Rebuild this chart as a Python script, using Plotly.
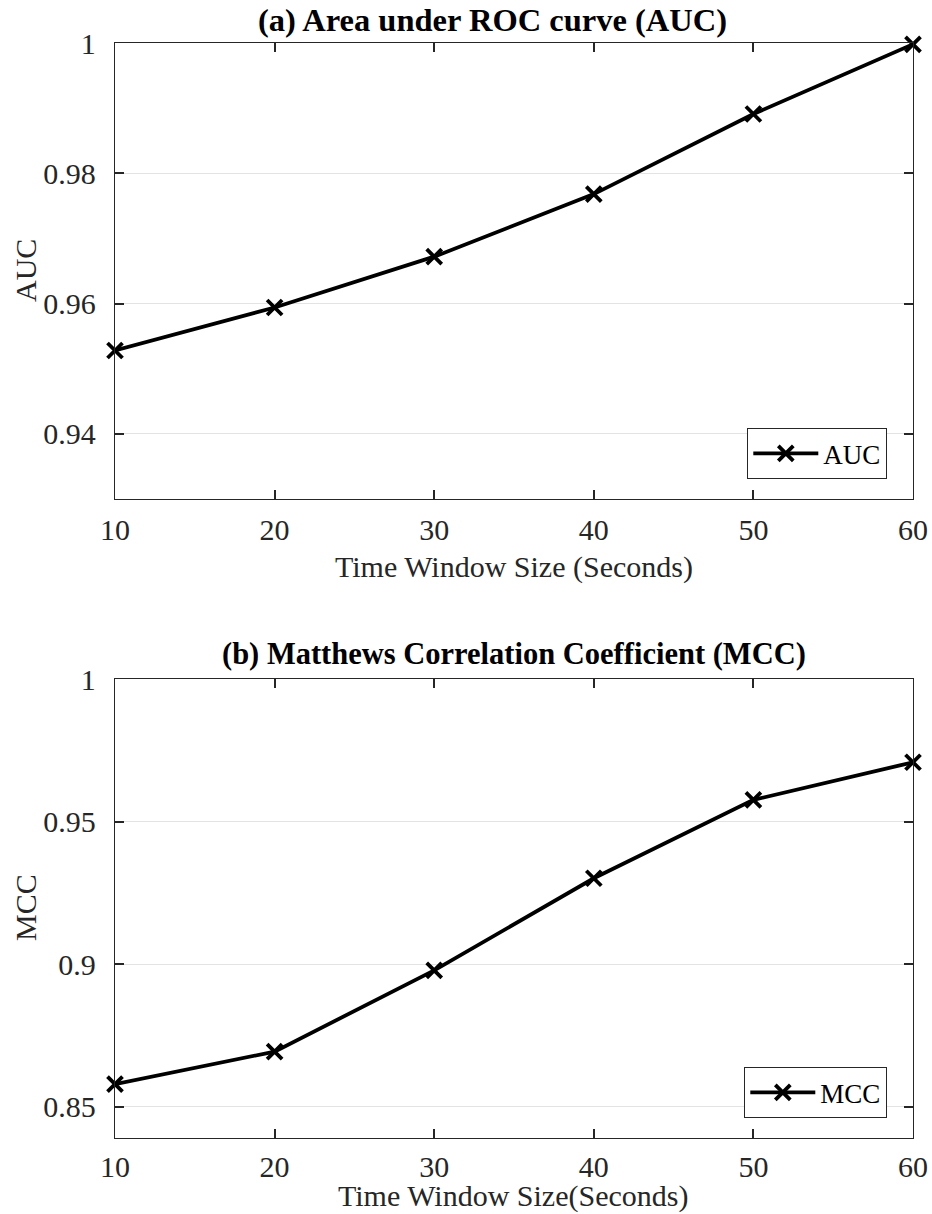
import plotly.graph_objects as go

window_sizes = [10, 20, 30, 40, 50, 60]
auc_values = [0.9528, 0.9594, 0.9672, 0.9768, 0.9891, 0.9998]
mcc_values = [0.8579, 0.8693, 0.8978, 0.9301, 0.9576, 0.9708]
auc_ticks = [0.94, 0.96, 0.98, 1.0]
auc_ticktext = ["0.94", "0.96", "0.98", "1"]
mcc_ticks = [0.85, 0.90, 0.95, 1.0]
mcc_ticktext = ["0.85", "0.9", "0.95", "1"]
x_ticks = [10, 20, 30, 40, 50, 60]
x_ticktext = ["10", "20", "30", "40", "50", "60"]

FONT = "Liberation Serif"
AXC = "#262626"
W, H = 932, 1214

fig = go.Figure()
fig.add_trace(go.Scatter(
    x=window_sizes, y=auc_values, mode="lines+markers", name="AUC",
    line=dict(color="black", width=3.8),
    marker=dict(symbol="x-thin", size=15, line=dict(color="black", width=3.8)),
    xaxis="x", yaxis="y", legend="legend", cliponaxis=False,
))
fig.add_trace(go.Scatter(
    x=window_sizes, y=mcc_values, mode="lines+markers", name="MCC",
    line=dict(color="black", width=3.8),
    marker=dict(symbol="x-thin", size=15, line=dict(color="black", width=3.8)),
    xaxis="x2", yaxis="y2", legend="legend2", cliponaxis=False,
))

def py(p):
    return 1 - p / H

def px(p):
    return (p - 115) / (913 - 115)

axis_common = dict(
    showline=True, linecolor=AXC, linewidth=1.3, mirror="ticks",
    ticks="inside", ticklen=9, tickwidth=1.5, tickcolor=AXC,
    tickfont=dict(family=FONT, size=30, color=AXC), zeroline=False,
    automargin=False, ticklabeloverflow="allow",
)
title_font = dict(family=FONT, size=30, color=AXC)

fig.update_layout(
    template="none",
    font=dict(family=FONT, size=30, color=AXC),
    width=W, height=H, paper_bgcolor="white", plot_bgcolor="white",
    margin=dict(l=115, r=W - 913, t=0, b=0, pad=0),
    showlegend=True,
    xaxis=dict(domain=[0, 1], range=[10, 60], tickvals=x_ticks, ticktext=x_ticktext,
               showgrid=False, anchor="y", ticklabelstandoff=4,
               title=dict(text="Time Window Size (Seconds)", font=title_font, standoff=10),
               **axis_common),
    yaxis=dict(domain=[py(499), py(43)], range=[0.93, 1.0], tickvals=auc_ticks, ticktext=auc_ticktext,
               showgrid=True, gridcolor="#e3e3e3", gridwidth=1, anchor="x",
               ticklabelstandoff=12,
               **axis_common),
    xaxis2=dict(domain=[0, 1], range=[10, 60], tickvals=x_ticks, ticktext=x_ticktext,
                showgrid=False, anchor="y2", ticklabelstandoff=2,
                **axis_common),
    yaxis2=dict(domain=[py(1138), py(679)], range=[0.839, 1.0], tickvals=mcc_ticks, ticktext=mcc_ticktext,
                showgrid=True, gridcolor="#e3e3e3", gridwidth=1, anchor="x2",
                ticklabelstandoff=12,
                **axis_common),
    legend=dict(x=px(887), xanchor="right", y=py(428), yanchor="top",
                bordercolor=AXC, borderwidth=1.3, bgcolor="white",
                font=dict(family=FONT, size=27, color="black"),
                itemwidth=65, tracegroupgap=0),
    legend2=dict(x=px(887), xanchor="right", y=py(1067), yanchor="top",
                 bordercolor=AXC, borderwidth=1.3, bgcolor="white",
                 font=dict(family=FONT, size=27, color="black"),
                 itemwidth=65, tracegroupgap=0),
    annotations=[
        dict(text="<b>(a) Area under ROC curve (AUC)</b>", xref="paper", yref="paper",
             x=px(492), y=py(20), xanchor="center", yanchor="middle", showarrow=False,
             font=dict(family=FONT, size=32.5, color="black")),
        dict(text="<b>(b) Matthews Correlation Coefficient (MCC)</b>", xref="paper", yref="paper",
             x=px(514), y=py(654), xanchor="center", yanchor="middle", showarrow=False,
             font=dict(family=FONT, size=30.5, color="black")),
        dict(text="Time Window Size(Seconds)", xref="paper", yref="paper",
             x=px(513), y=py(1196), xanchor="center", yanchor="middle", showarrow=False,
             font=title_font),
        dict(text="AUC", xref="paper", yref="paper", textangle=-90,
             x=px(25), y=py(271), xanchor="center", yanchor="middle", showarrow=False,
             font=title_font),
        dict(text="MCC", xref="paper", yref="paper", textangle=-90,
             x=px(25), y=py(908), xanchor="center", yanchor="middle", showarrow=False,
             font=title_font),
    ],
)

fig.write_html("out.html", config={"displayModeBar": False},
               post_script="document.body.style.margin='0';")
